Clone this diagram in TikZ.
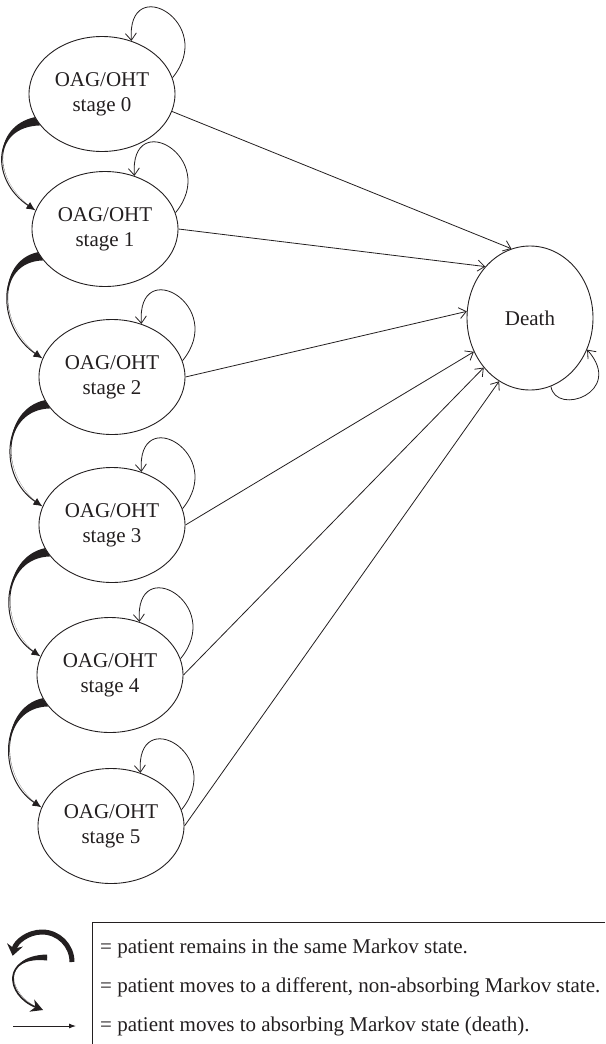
\documentclass[tikz,border=0pt]{standalone}
\usepackage{fontspec}
\setmainfont{Liberation Serif}
\usetikzlibrary{arrows.meta,shapes.geometric,calc}
\definecolor{ink}{HTML}{231F20}
\begin{document}
\begin{tikzpicture}[x=1pt,y=1pt,line join=round,
  stagenode/.style={ellipse,draw=ink,line width=0.9pt,minimum width=146pt,minimum height=115pt,inner sep=0pt,align=center,font=\fontsize{21}{25}\selectfont,text=ink},
  deathnode/.style={ellipse,draw=ink,line width=0.9pt,minimum width=126pt,minimum height=144pt,inner sep=0pt,font=\fontsize{21}{25}\selectfont,text=ink},
  vee/.style={draw=ink,line width=0.8pt,-{Straight Barb[length=7pt,width=11pt]}},
  moveline/.style={draw=ink,line width=1pt,-{Latex[length=9pt,width=8pt]}},
  legtext/.style={anchor=base west,inner sep=0pt,font=\fontsize{21}{25}\selectfont,text=ink}
]
\useasboundingbox (0,0) rectangle (605,-1044);

% states
\node[stagenode] (s0) at (102,-94)  {OAG/OHT\\stage 0};
\node[stagenode] (s1) at (105,-229) {OAG/OHT\\stage 1};
\node[stagenode] (s2) at (112,-377) {OAG/OHT\\stage 2};
\node[stagenode] (s3) at (112,-525) {OAG/OHT\\stage 3};
\node[stagenode] (s4) at (110,-675) {OAG/OHT\\stage 4};
\node[stagenode] (s5) at (111,-826) {OAG/OHT\\stage 5};
\node[deathnode] (death) at (530,-318) {Death};

% self loops
\foreach \s in {s0,s1,s2,s3,s4,s5}
  \draw[vee] (\s.13) .. controls +(45,55) and +(-5,70) .. (\s.61);
\draw[vee] (death.-73) .. controls +(5,-30) and +(38,-43) .. (death.-29);

% to death
\draw[vee] (s0.-14) -- (death.105);
\draw[vee] (s1.east) -- (death.131);
\draw[vee] (s2.east) -- (death.174);
\draw[vee] (s3.east) -- (death.211);
\draw[vee] (s4.east) -- (death.227);
\draw[vee] (s5.east) -- (death.244);

% moves to next stage (brush strokes: thick start, tapering)
\foreach \a/\b in {s0/s1,s1/s2,s2/s3,s3/s4,s4/s5}{
  \fill[ink] (\a.199) .. controls ($(\a.203)+(-45,-5)$) and ($(\b.165)+(-45,30)$) .. (\b.165)
     .. controls ($(\b.165)+(-45,30)$) and ($(\a.203)+(-45,-5)$) .. (\a.207) -- cycle;
  \draw[moveline] (\a.203) .. controls +(-45,-5) and +(-45,30) .. (\b.165);
}

% legend frame
\coordinate (boxtr) at (605,-922);
\coordinate (boxbl) at (92,-1044);
\draw[ink,line width=0.9pt] (boxtr) -| (boxbl);

% legend icons
\coordinate (i1s) at (72,-962);
\draw[ink,line width=5pt,-{Stealth[length=11pt,width=16pt]}] (i1s) arc[start angle=0,end angle=168,radius=30];

\coordinate (i2a) at (47,-954.5);
\coordinate (i2b) at (47,-960.5);
\coordinate (i2c) at (47,-957.5);
\coordinate (i2e) at (43,-1010);
\fill[ink] (i2a) .. controls ($(i2c)+(-45,2)$) and ($(i2e)+(-38,15)$) .. (i2e)
   .. controls ($(i2e)+(-38,15)$) and ($(i2c)+(-45,2)$) .. (i2b) -- cycle;
\draw[ink,line width=1.6pt,-{Stealth[length=12pt,width=13pt]}] (i2c) .. controls +(-45,2) and +(-38,15) .. (i2e);

\coordinate (i3a) at (13,-1026);
\coordinate (i3b) at (76,-1026);
\draw[ink,line width=0.9pt,-{Latex[length=7pt,width=5pt]}] (i3a) -- (i3b);

% legend texts
\node[legtext] (t1) at (100,-953)  {= patient remains in the same Markov state.};
\node[legtext] (t2) at (100,-992)  {= patient moves to a different, non-absorbing Markov state.};
\node[legtext] (t3) at (100,-1031) {= patient moves to absorbing Markov state (death).};
\end{tikzpicture}
\end{document}
